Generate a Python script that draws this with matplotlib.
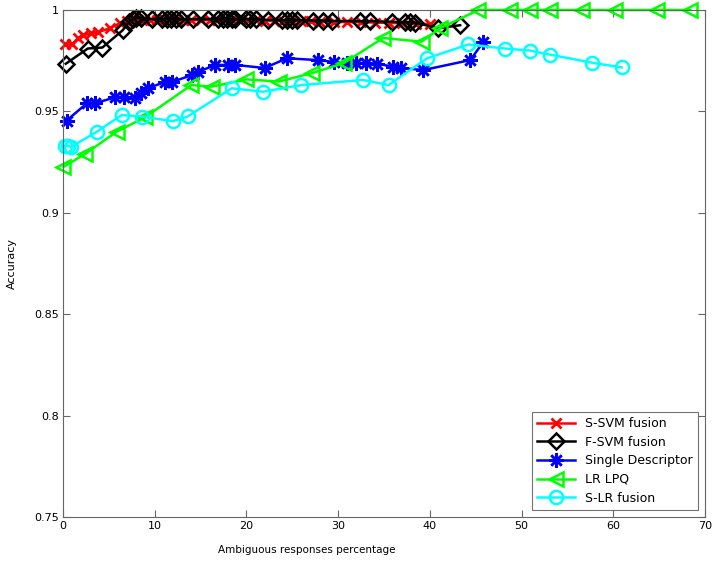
import numpy as np
import matplotlib
matplotlib.use('Agg')
import matplotlib.pyplot as plt

# ---- data ----
ssvm_x = [0.2, 1.0, 1.6, 2.2, 3.1, 3.8, 5.1, 6.2, 7.0, 7.6, 8.2, 8.8, 9.5, 10.2, 11.0, 11.6,
          12.4, 13.2, 14.0, 15.0, 16.0, 16.8, 17.6, 18.4, 19.2, 20.2, 21.0, 22.0, 23.0, 24.0,
          25.0, 26.0, 27.0, 28.0, 29.5, 31.0, 32.5, 34.0, 35.5, 37.0, 38.5, 40.0]
ssvm_y = [0.983, 0.983, 0.986, 0.9875, 0.9885, 0.989, 0.991, 0.9935, 0.9945, 0.995, 0.995, 0.995,
          0.995, 0.995, 0.995, 0.995, 0.995, 0.995, 0.995, 0.995, 0.995, 0.995, 0.995, 0.995,
          0.995, 0.995, 0.995, 0.9948, 0.9948, 0.9946, 0.9946, 0.9945, 0.9944, 0.9943, 0.9942,
          0.994, 0.994, 0.9938, 0.9936, 0.9935, 0.9933, 0.993]

fsvm_x = [0.3, 2.7, 4.3, 6.5, 7.2, 7.6, 8.0, 8.5, 9.7, 10.8, 11.3, 11.8, 12.3, 12.9, 14.2, 15.8,
          16.9, 17.4, 17.9, 18.4, 18.8, 19.9, 20.4, 21.0, 22.4, 23.9, 24.4, 25.0, 25.5, 27.3,
          28.3, 29.3, 32.4, 33.5, 35.9, 37.3, 37.8, 38.4, 40.9, 43.3]
fsvm_y = [0.9735, 0.981, 0.9815, 0.990, 0.994, 0.9955, 0.996, 0.996, 0.9955, 0.9955, 0.9955,
          0.9955, 0.9955, 0.9955, 0.9955, 0.9955, 0.9955, 0.9955, 0.9955, 0.9955, 0.9955,
          0.9955, 0.9955, 0.9955, 0.995, 0.995, 0.995, 0.995, 0.995, 0.9948, 0.9948, 0.9946,
          0.9945, 0.9945, 0.9942, 0.994, 0.994, 0.9938, 0.991, 0.9925]

single_x = [0.4, 2.6, 3.5, 5.7, 6.6, 7.9, 8.5, 9.3, 11.1, 11.9, 14.1, 14.7, 16.6, 18.0, 18.8,
            22.0, 24.4, 27.8, 29.5, 31.0, 32.0, 33.0, 34.2, 36.0, 36.8, 39.3, 44.4, 45.8]
single_y = [0.9455, 0.954, 0.954, 0.957, 0.957, 0.9565, 0.959, 0.9615, 0.9645, 0.9645, 0.968,
            0.9694, 0.9729, 0.9729, 0.9729, 0.9714, 0.9762, 0.9753, 0.9744, 0.974, 0.974,
            0.9738, 0.9736, 0.972, 0.9714, 0.9704, 0.9753, 0.984]

lpq_x = [0.05, 2.4, 5.85, 8.9, 14.0, 16.2, 20.0, 23.5, 27.1, 30.6, 34.9, 39.1, 41.1, 45.3,
         48.7, 50.9, 53.1, 56.6, 60.2, 64.8, 68.4]
lpq_y = [0.9226, 0.929, 0.940, 0.947, 0.963, 0.9622, 0.9658, 0.9647, 0.9688, 0.9738, 0.9862,
         0.9844, 0.991, 1.0, 1.0, 1.0, 1.0, 1.0, 1.0, 1.0, 1.0]

slr_x = [0.2, 0.5, 0.9, 3.7, 6.4, 8.6, 12.0, 13.6, 18.4, 21.8, 26.0, 32.7, 35.5, 39.7, 44.2,
         48.2, 50.9, 53.1, 57.7, 60.9]
slr_y = [0.933, 0.933, 0.9325, 0.9400, 0.9482, 0.9474, 0.9452, 0.9475, 0.9614, 0.9597, 0.963,
         0.9655, 0.963, 0.9762, 0.9830, 0.981, 0.980, 0.978, 0.974, 0.9717]

fig = plt.figure(figsize=(7.12, 5.61), dpi=100)
ax = fig.add_axes([63/712, 44/561, 642/712, 507/561])

asterisk = (8, 2, 0)
ax.plot(ssvm_x, ssvm_y, color=(1, 0, 0), marker='x', markersize=7, mew=2, lw=1.8,
        label='S-SVM fusion', clip_on=False)
ax.plot(fsvm_x, fsvm_y, color='k', marker='D', markersize=8, mew=1.8, mfc='none', lw=1.8,
        label='F-SVM fusion', clip_on=False)
ax.plot(single_x, single_y, color=(0, 0, 1), marker=asterisk, markersize=10.5, mew=1.8, lw=1.8,
        label='Single Descriptor', clip_on=False)
ax.plot(lpq_x, lpq_y, color=(0, 1, 0), marker='<', markersize=10, mew=1.8, mfc='none', lw=1.8,
        label='LR LPQ', clip_on=False)
ax.plot(slr_x, slr_y, color=(0, 1, 1), marker='o', markersize=9.5, mew=1.8, mfc='none', lw=1.8,
        label='S-LR fusion', clip_on=False)

ax.set_xlim(0, 70)
ax.set_ylim(0.75, 1)
ax.set_xticks(range(0, 71, 10))
ax.set_yticks([0.75, 0.8, 0.85, 0.9, 0.95, 1])
ax.set_yticklabels(['0.75', '0.8', '0.85', '0.9', '0.95', '1'])
ax.tick_params(direction='in', top=True, right=True, labelsize=8, length=5, color='0.4', pad=3)
for s in ax.spines.values():
    s.set_color('0.4')
ax.set_xlabel('Ambiguous responses percentage', fontsize=7.5)
ax.xaxis.set_label_coords((307 - 63) / 642, -0.055)
ax.set_ylabel('Accuracy', fontsize=8)
ax.yaxis.set_label_coords(-0.072, 0.5)

leg = ax.legend(loc='lower right', fontsize=9, fancybox=False, borderaxespad=0.6,
                handlelength=3, labelspacing=0.45)
leg.get_frame().set_edgecolor('0.3')
leg.get_frame().set_linewidth(0.8)

fig.savefig('out.png', dpi=100)
